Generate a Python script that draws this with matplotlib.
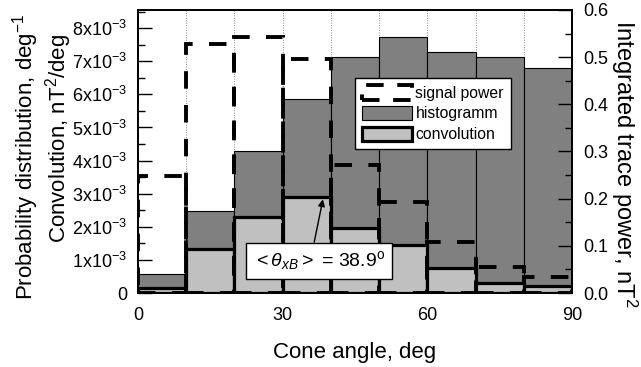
import matplotlib
matplotlib.use("Agg")
import matplotlib.pyplot as plt
from matplotlib.patches import Patch
import numpy as np

plt.rcParams['font.family'] = ['Liberation Sans', 'DejaVu Sans']
plt.rcParams['mathtext.fontset'] = 'custom'
plt.rcParams['mathtext.rm'] = 'Liberation Sans'
plt.rcParams['mathtext.it'] = 'Liberation Sans:italic'
plt.rcParams['mathtext.bf'] = 'Liberation Sans:bold'

# Data
bin_left = [0, 10, 20, 30, 40, 50, 60, 70, 80]
histogram = [0.57e-3, 2.48e-3, 4.30e-3, 5.86e-3, 7.12e-3, 7.72e-3, 7.29e-3, 7.12e-3, 6.79e-3]
convolution = [0.15e-3, 1.32e-3, 2.29e-3, 2.91e-3, 1.96e-3, 1.45e-3, 0.75e-3, 0.31e-3, 0.22e-3]
signal_power = [0.248, 0.527, 0.542, 0.496, 0.272, 0.193, 0.109, 0.056, 0.035]
mean_angle = 38.9
left_ticks = [0, 1e-3, 2e-3, 3e-3, 4e-3, 5e-3, 6e-3, 7e-3, 8e-3]
right_ticks = [0.0, 0.1, 0.2, 0.3, 0.4, 0.5, 0.6]
x_ticks = [0, 30, 60, 90]

DASH = (0, (4.5, 4.2))

fig = plt.figure(figsize=(6.41, 3.67), dpi=100)
ax = fig.add_axes([0.2153, 0.2016, 0.6771, 0.7712])
ax2 = ax.twinx()

ax.set_axisbelow(True)
ax.bar(bin_left, histogram, width=10, align='edge', color='#808080',
       edgecolor='black', linewidth=0.8, zorder=2)
ax.bar(bin_left, convolution, width=10, align='edge', color='#c0c0c0',
       edgecolor='black', linewidth=2.3, zorder=3)
ax2.bar(bin_left, signal_power, width=10, align='edge', fill=False,
        edgecolor='black', linewidth=2.8, linestyle=DASH, zorder=3)

for xv in range(10, 90, 10):
    ax.axvline(xv, color='#888888', linestyle=(0, (1, 1.5)), linewidth=0.7, zorder=1)

ax.set_xlim(0, 90)
ax.set_ylim(0, 8.55e-3)
ax2.set_ylim(0, 0.6)
ax.set_xticks(x_ticks)
ax.set_xticklabels([str(v) for v in x_ticks])
ax.tick_params(axis='x', length=0, pad=10, labelsize=13)

ax.set_yticks(left_ticks)
ax.set_yticklabels(['0'] + [f'{int(round(v*1e3))}x10$^{{-3}}$' for v in left_ticks[1:]])
ax.set_yticks(np.arange(0.5e-3, 8.55e-3, 1e-3), minor=True)
ax.tick_params(axis='y', which='major', direction='in', length=10, width=1, labelsize=13, pad=8)
ax.tick_params(axis='y', which='minor', direction='in', length=5, width=1)

ax2.set_yticks(right_ticks)
ax2.set_yticklabels([f'{v:.1f}' for v in right_ticks])
ax2.set_yticks(np.arange(0.05, 0.6, 0.1), minor=True)
ax2.tick_params(axis='y', which='major', direction='in', length=10, width=1, labelsize=13, pad=8)
ax2.tick_params(axis='y', which='minor', direction='in', length=5, width=1)

for a in (ax, ax2):
    for s in a.spines.values():
        s.set_linewidth(1.3)

ax.set_xlabel('Cone angle, deg', fontsize=16, labelpad=13)
fig.text(26 / 641, 1 - 157 / 367, 'Probability distribution, deg$^{-1}$', rotation=90,
         ha='center', va='center', fontsize=16)
fig.text(59 / 641, 1 - 138 / 367, 'Convolution, nT$^{2}$/deg', rotation=90,
         ha='center', va='center', fontsize=16)
fig.text(624 / 641, 1 - 20 / 367, 'Integrated trace power, nT$^{2}$', rotation=270,
         ha='center', va='top', fontsize=17)

handles = [
    Patch(facecolor='white', edgecolor='black', linewidth=2.8, linestyle=(0, (4.5, 3.5))),
    Patch(facecolor='#808080', edgecolor='black', linewidth=0.8),
    Patch(facecolor='#c0c0c0', edgecolor='black', linewidth=2.3),
]
leg = ax2.legend(handles, ['signal power', 'histogramm', 'convolution'],
                 loc='upper left', bbox_to_anchor=(0.5, 0.76), fontsize=11.3,
                 frameon=True, fancybox=False, framealpha=1, edgecolor='black',
                 handlelength=3.2, handleheight=1.05, handletextpad=0.2,
                 labelspacing=0.33, borderpad=0.45, borderaxespad=0)
leg.get_frame().set_linewidth(1.0)
leg.set_zorder(10)

ax2.annotate(r'$<\theta_{xB}>$ = ' + f'{mean_angle}' + r'$^{\rm o}$',
             xy=(38.4, 2.87e-3), xycoords=ax.transData,
             xytext=(37.6, 0.97e-3), textcoords=ax.transData,
             ha='center', va='center', fontsize=14,
             bbox=dict(boxstyle='square,pad=0.35', facecolor='white', edgecolor='black', linewidth=1.0),
             arrowprops=dict(arrowstyle='-|>', color='black', lw=1.0, mutation_scale=10,
                             relpos=(0.45, 1.0), shrinkA=0, shrinkB=1),
             zorder=11)

fig.savefig('out.png', dpi=100)
